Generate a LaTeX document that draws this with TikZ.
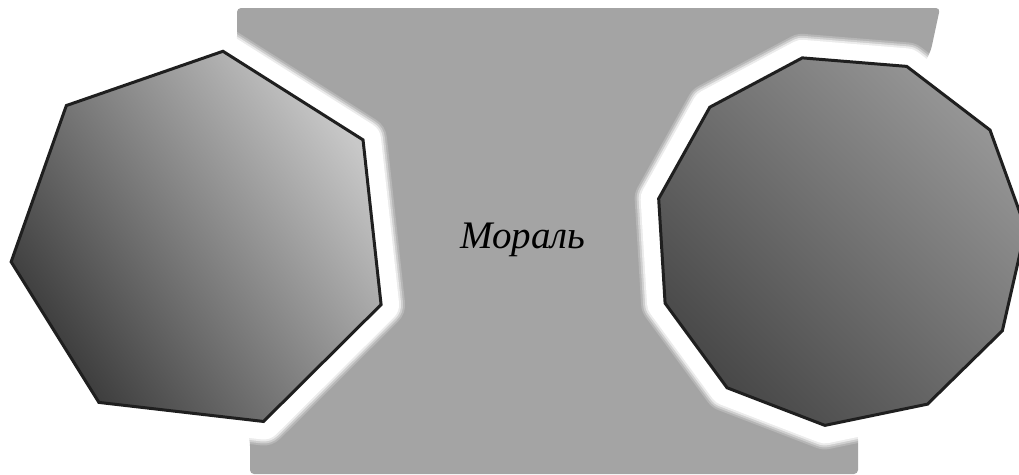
\documentclass[tikz,border=0pt]{standalone}
\usepackage{fontspec}
\setmainfont{Liberation Serif}
\usetikzlibrary{shapes.geometric}
\definecolor{bggrey}{RGB}{164,164,164}
\definecolor{hepdark}{RGB}{58,58,58}
\definecolor{heplight}{RGB}{200,200,200}
\definecolor{hendark}{RGB}{72,72,72}
\definecolor{henlight}{RGB}{150,150,150}
\begin{document}
\begin{tikzpicture}[x=1pt,y=-1pt,
  halobase/.style={regular polygon, inner sep=0pt, draw=white, line join=round},
  poly/.style={regular polygon, inner sep=0pt, draw=black!88, line width=3pt, line join=miter}]
\useasboundingbox (0,0) rectangle (1019,474);
\fill[white] (0,0) rectangle (1019,474);
\coordinate (L) at (201,241);
\coordinate (R) at (840,240);
\fill[bggrey, rounded corners=4pt] (237,8) -- (940,8) -- (931,50) -- (R) -- (858,436) -- (858,474) -- (250,474) -- (250,442) -- (L) -- (237,40) -- cycle;
% halos (soft edge by layered strokes)
\foreach \w/\o in {48/0.2,44/0.35,40/0.6,36/1} {
  \node[halobase, draw opacity=\o, line width=\w pt, regular polygon sides=7, minimum size=382pt, shape border rotate=-6.6] at (L) {};
  \node[halobase, draw opacity=\o, line width=\w pt, regular polygon sides=11, minimum size=372pt, shape border rotate=11.7] at (R) {};
}
% polygons
\node[poly, regular polygon sides=7, minimum size=382pt, shape border rotate=-6.6,
  top color=heplight, bottom color=hepdark, shading angle=-55] (hept) at (L) {};
\node[poly, regular polygon sides=11, minimum size=372pt, shape border rotate=11.7,
  top color=henlight, bottom color=hendark, shading angle=-45] (hend) at (R) {};
% label
\node[font=\itshape\fontsize{39}{42}\selectfont, anchor=base, inner sep=0pt] (moral) at (523,248) {Мораль};
\end{tikzpicture}
\end{document}
